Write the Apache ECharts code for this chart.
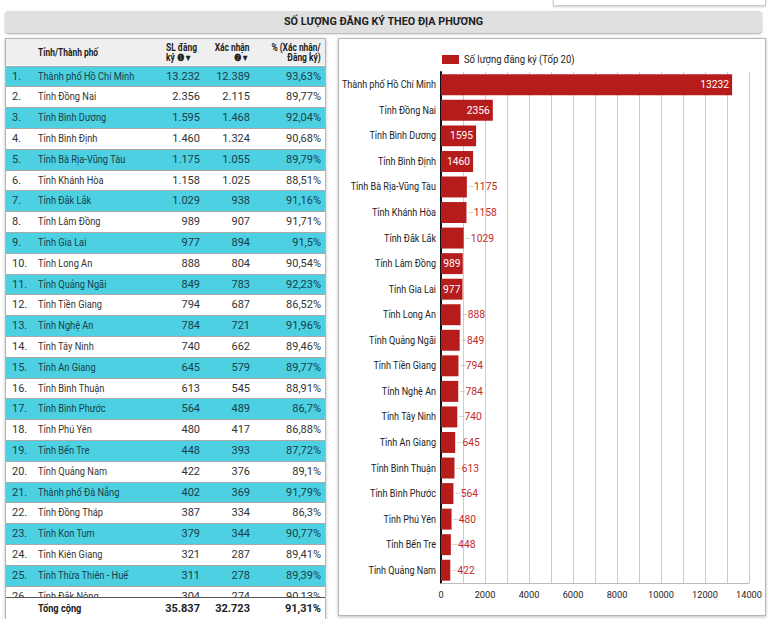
<!DOCTYPE html>
<html>
<head>
<meta charset="utf-8">
<script src="https://cdn.jsdelivr.net/npm/echarts@6/dist/echarts.min.js"></script>
<style>
  html, body { margin: 0; padding: 0; background: #fff; font-family: Roboto, "Noto Sans", sans-serif; }
  body { width: 774px; height: 619px; position: relative; overflow: hidden; }
  .topbox { position: absolute; left: 553px; top: -10px; width: 211px; height: 14px; border: 1px solid #ccc; background: #fff; box-shadow: 0 1px 2px rgba(0,0,0,.2); }
  .title { position: absolute; left: 5px; top: 11px; width: 757px; height: 22px; line-height: 22px; background: #e0e0e0; border-radius: 4px; box-shadow: 0 1px 2px rgba(0,0,0,.35); text-align: center; font-weight: bold; font-size: 10.8px; color: #222; }
  .panel { position: absolute; box-sizing: border-box; border: 1px solid #b5b5b5; background: #fff; box-shadow: 0 1px 3px rgba(0,0,0,.25); overflow: hidden; }
  #tbl { left: 5px; top: 38px; width: 321px; height: 590px; }
  #chartBox { left: 338px; top: 38px; width: 428px; height: 578px; }
  .row { position: absolute; left: 0; width: 319px; height: 21px; font-size: 11px; color: #333; border-top: 1px solid #a9a9a9; box-sizing: border-box; }
  .row span { position: absolute; top: 0; line-height: 20px; white-space: nowrap; }
  .row.odd { background: #4dd0e1; color: #16414a; }
  .nar { display: inline-block; transform: scaleX(0.84); transform-origin: 0 50%; }
  .c0 { left: 6px; }
  .c1 { left: 32px; }
  .c2 { right: 125px; }
  .c3 { right: 75px; }
  .c4 { right: 4px; }
  .head { position: absolute; left: 0; top: 0; width: 319px; height: 26px; background: #efefef; font-size: 10px; font-weight: bold; color: #222; }
  .head span { position: absolute; line-height: 9.5px; white-space: nowrap; }
  .head .r { transform-origin: 100% 50%; text-align: right; }
  .total { position: absolute; left: 0; top: 558px; width: 319px; height: 24px; background: #fff; border-top: 1px solid #555; font-size: 11px; font-weight: bold; color: #222; }
  .total span { position: absolute; line-height: 22px; }
</style>
</head>
<body>
<div class="topbox"></div>
<div class="title">SỐ LƯỢNG ĐĂNG KÝ THEO ĐỊA PHƯƠNG</div>
<div class="panel" id="tbl"></div>
<div class="panel" id="chartBox"><div id="chart" style="width:426px;height:576px;"></div></div>
<script>
var provinces = ['Thành phố Hồ Chí Minh', 'Tỉnh Đồng Nai', 'Tỉnh Bình Dương', 'Tỉnh Bình Định', 'Tỉnh Bà Rịa-Vũng Tàu',
  'Tỉnh Khánh Hòa', 'Tỉnh Đắk Lắk', 'Tỉnh Lâm Đồng', 'Tỉnh Gia Lai', 'Tỉnh Long An',
  'Tỉnh Quảng Ngãi', 'Tỉnh Tiền Giang', 'Tỉnh Nghệ An', 'Tỉnh Tây Ninh', 'Tỉnh An Giang',
  'Tỉnh Bình Thuận', 'Tỉnh Bình Phước', 'Tỉnh Phú Yên', 'Tỉnh Bến Tre', 'Tỉnh Quảng Nam',
  'Thành phố Đà Nẵng', 'Tỉnh Đồng Tháp', 'Tỉnh Kon Tum', 'Tỉnh Kiên Giang', 'Tỉnh Thừa Thiên - Huế',
  'Tỉnh Đắk Nông'];
var registered = [13232, 2356, 1595, 1460, 1175, 1158, 1029, 989, 977, 888,
  849, 794, 784, 740, 645, 613, 564, 480, 448, 422,
  402, 387, 379, 321, 311, 304];
var confirmed = [12389, 2115, 1468, 1324, 1055, 1025, 938, 907, 894, 804,
  783, 687, 721, 662, 579, 545, 489, 417, 393, 376,
  369, 334, 344, 287, 278, 274];
var ratio = ['93,63%', '89,77%', '92,04%', '90,68%', '89,79%', '88,51%', '91,16%', '91,71%', '91,5%', '90,54%',
  '92,23%', '86,52%', '91,96%', '89,46%', '89,77%', '88,91%', '86,7%', '86,88%', '87,72%', '89,1%',
  '91,79%', '86,3%', '90,77%', '89,41%', '89,39%', '90,13%'];
var totals = [35837, 32723];
var totalRatio = '91,31%';
var xTicks = [0, 2000, 4000, 6000, 8000, 10000, 12000, 14000];
var seriesName = 'Số lượng đăng ký (Tốp 20)';
var topN = 20;

var fmt = function(n){
	return String(n).replace(/\B(?=(\d{3})+(?!\d))/g, '.');
};

// table on the left
var buildTable = function(){
	var html = '<div class="head">' +
		'<span class="nar" style="left:32px;top:9px;">Tỉnh/Thành phố</span>' +
		'<span class="nar" style="left:160px;top:4px;">SL đăng<br>ký ❶ ▾</span>' +
		'<span class="nar r" style="right:75px;top:4px;">Xác nhận<br>❷ ▾&nbsp;</span>' +
		'<span class="nar r" style="right:4px;top:4px;">% (Xác nhận/<br>Đăng ký)</span>' +
		'</div>';
	var rowH = 20.8;
	for (var i = 0; i < provinces.length; i++) {
		var top = 26.5 + i * rowH;
		html += '<div class="row' + (i % 2 == 0 ? ' odd' : '') + '" style="top:' + top + 'px">' +
			'<span class="c0">' + (i + 1) + '.</span>' +
			'<span class="c1 nar">' + provinces[i] + '</span>' +
			'<span class="c2">' + fmt(registered[i]) + '</span>' +
			'<span class="c3">' + fmt(confirmed[i]) + '</span>' +
			'<span class="c4">' + ratio[i] + '</span>' +
			'</div>';
	}
	html += '<div class="total">' +
		'<span class="nar" style="left:32px;">Tổng cộng</span>' +
		'<span style="right:125px;">' + fmt(totals[0]) + '</span>' +
		'<span style="right:75px;">' + fmt(totals[1]) + '</span>' +
		'<span style="right:4px;">' + totalRatio + '</span>' +
		'</div>';
	document.getElementById('tbl').innerHTML = html;
};

// squeeze the wordy labels a bit, the source font is narrower than Roboto
var narrowTexts = function(){
	var texts = document.querySelectorAll('#chart text');
	for (var i = 0; i < texts.length; i++) {
		var t = texts[i];
		if (!/[A-Za-zÀ-ỹ]/.test(t.textContent) || t.getAttribute('lengthAdjust')) continue;
		var len = t.getComputedTextLength();
		t.setAttribute('lengthAdjust', 'spacingAndGlyphs');
		t.setAttribute('textLength', (len * 0.86).toFixed(1));
	}
};

// bar chart on the right
var topChart = function(){
	var names = provinces.slice(0, topN);
	var values = registered.slice(0, topN);
	var axisMax = xTicks[xTicks.length - 1];
	var gridLeft = 102, gridRight = 16;
	var gridW = 426 - gridLeft - gridRight;
	var ctx = document.createElement('canvas').getContext('2d');
	ctx.font = '10.3px Roboto';
	// label goes inside the bar only when the number fits with some room
	var data = values.map(function(v){
		var barW = v / axisMax * gridW;
		var textW = ctx.measureText(String(v)).width;
		if (textW + 3.5 <= barW) {
			var gap = Math.min(3, Math.max(1, (barW - textW) / 2));
			return {value: v, label: {position: 'insideRight', distance: gap, color: '#fff', formatter: '{c}'}};
		}
		return {value: v, label: {position: 'right', distance: 1, formatter: '{l|—}{v|{c}}'}};
	});
	var option = {
		animation: false,
		textStyle: {fontFamily: 'Roboto'},
		legend: {
			data: [seriesName],
			left: 103,
			top: 15,
			padding: 0,
			icon: 'rect',
			itemWidth: 17,
			itemHeight: 9,
			itemGap: 6,
			textStyle: {fontSize: 11, color: '#222'}
		},
		grid: {left: gridLeft, right: gridRight, top: 33, bottom: 32, containLabel: false, outerBoundsMode: 'none'},
		xAxis: {
			type: 'value',
			min: 0,
			max: axisMax,
			interval: 2000,
			axisLine: {show: true, lineStyle: {color: '#bbb'}},
			axisTick: {show: false},
			axisLabel: {color: '#222', fontSize: 9.2, margin: 7, formatter: function(v){ return String(v); }},
			splitLine: {lineStyle: {color: '#ccc'}},
			minorTick: {show: false, splitNumber: 2},
			minorSplitLine: {show: true, lineStyle: {color: '#ccc'}}
		},
		yAxis: {
			type: 'category',
			data: names,
			inverse: true,
			axisLine: {lineStyle: {color: '#111', width: 2}},
			axisTick: {show: false},
			axisLabel: {color: '#222', fontSize: 10.5, margin: 5}
		},
		series: [{
			name: seriesName,
			type: 'bar',
			data: data,
			barCategoryGap: '18%',
			itemStyle: {color: '#b71c1c'},
			label: {
				show: true,
				fontSize: 10.3,
				color: '#c62828',
				rich: {
					l: {color: '#bbb', fontSize: 8},
					v: {color: '#c62828', fontSize: 10.3}
				}
			}
		}]
	};
	var myChart = echarts.init(document.getElementById('chart'), null, {renderer: 'svg'});
	myChart.on('finished', narrowTexts);
	myChart.setOption(option);
	narrowTexts();
};

(function init(){
	buildTable();
	topChart();
})();
</script>
</body>
</html>
